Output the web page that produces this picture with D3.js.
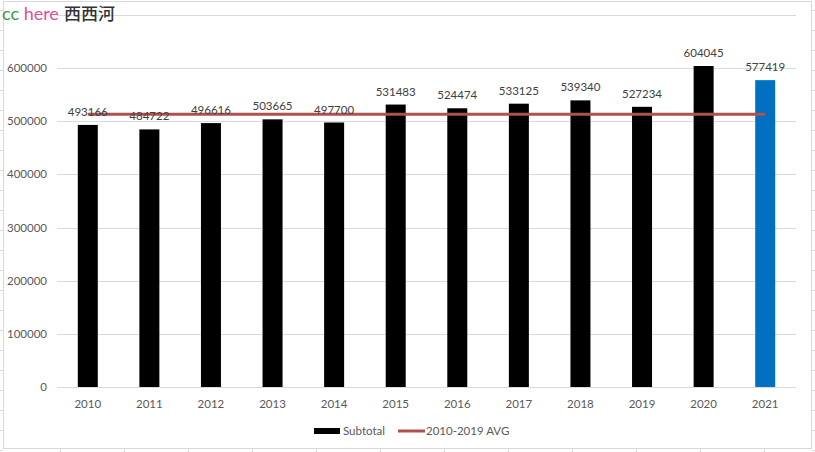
<!DOCTYPE html>
<html>
<head>
<meta charset="utf-8">
<script src="https://cdn.jsdelivr.net/npm/d3@7"></script>
<style>
  body { margin: 0; background: #fff; }
  svg text { font-family: Lato, "Open Sans", sans-serif; }
</style>
</head>
<body>
<svg id="chart" width="815" height="452"></svg>
<script>
const years = ["2010", "2011", "2012", "2013", "2014", "2015", "2016", "2017", "2018", "2019", "2020", "2021"];
const subtotal = [493166, 484722, 496616, 503665, 497700, 531483, 524474, 533125, 539340, 527234, 604045, 577419];
const yTicks = [0, 100000, 200000, 300000, 400000, 500000, 600000, 700000];
const avgYears = years.slice(0, 10);

const svg = d3.select("svg#chart");
const W = +svg.attr("width"), H = +svg.attr("height");

// spreadsheet cell lines around the chart object
const sheet = svg.append("g").attr("stroke", "#d9d9d9").attr("stroke-width", 1);
d3.range(10, H, 20).forEach(y => {
    sheet.append("line").attr("x1", 0).attr("x2", 3).attr("y1", y + 0.5).attr("y2", y + 0.5);
    sheet.append("line").attr("x1", 812).attr("x2", W).attr("y1", y + 0.5).attr("y2", y + 0.5);
});
d3.range(60, W, 64).forEach(x => {
    sheet.append("line").attr("x1", x + 0.5).attr("x2", x + 0.5).attr("y1", 449).attr("y2", H);
});
svg.append("rect")
    .attr("x", 3.5).attr("y", 1.5).attr("width", 808).attr("height", 447)
    .attr("fill", "#fff").attr("stroke", "#d9d9d9");

const x = d3.scaleBand().domain(years).range([57, 796]);
const y = d3.scaleLinear().domain([0, 700000]).range([387, 15]);

// gridlines
svg.append("g").selectAll("line").data(yTicks.slice(1)).join("line")
    .attr("x1", 57).attr("x2", 796)
    .attr("y1", d => Math.round(y(d)) + 0.5).attr("y2", d => Math.round(y(d)) + 0.5)
    .attr("stroke", "#d9d9d9");

// y axis labels
svg.append("g").selectAll("text").data(yTicks.slice(0, 7)).join("text")
    .attr("x", 47).attr("y", d => y(d)).attr("dy", "0.35em")
    .attr("text-anchor", "end").attr("font-size", 11.5).attr("fill", "#595959")
    .text(d => d);

// baseline
svg.append("line").attr("x1", 57).attr("x2", 796)
    .attr("y1", y(0) + 0.5).attr("y2", y(0) + 0.5).attr("stroke", "#d9d9d9");

// x labels
svg.append("g").selectAll("text").data(years).join("text")
    .attr("x", d => x(d) + x.bandwidth() / 2).attr("y", 404)
    .attr("dy", "0.35em").attr("text-anchor", "middle")
    .attr("font-size", 11.5).attr("fill", "#595959")
    .text(d => d);

const barW = 20;
svg.append("g").selectAll("rect").data(subtotal).join("rect")
    .attr("x", (d, i) => x(years[i]) + x.bandwidth() / 2 - barW / 2)
    .attr("width", barW)
    .attr("y", d => y(d))
    .attr("height", d => y(0) - y(d))
    .attr("fill", (d, i) => years[i] === "2021" ? "#0070c0" : "#000");

// 2010-2019 average
const avg = d3.mean(subtotal.slice(0, avgYears.length));
svg.append("line")
    .attr("x1", x(years[0]) + x.bandwidth() / 2)
    .attr("x2", x(years[years.length - 1]) + x.bandwidth() / 2)
    .attr("y1", y(avg)).attr("y2", y(avg))
    .attr("stroke", "#b0504f").attr("stroke-width", 3);

// value labels
svg.append("g").selectAll("text").data(subtotal).join("text")
    .attr("x", (d, i) => x(years[i]) + x.bandwidth() / 2)
    .attr("y", d => y(d) - 9)
    .attr("text-anchor", "middle").attr("font-size", 11.5).attr("fill", "#404040")
    .text(d => d);

// legend
const lg = svg.append("g").attr("font-size", 11.5).attr("fill", "#595959");
lg.append("rect").attr("x", 314).attr("y", 428).attr("width", 26).attr("height", 6).attr("fill", "#000");
lg.append("text").attr("x", 343).attr("y", 431).attr("dy", "0.35em").text("Subtotal");
lg.append("line").attr("x1", 398).attr("x2", 425).attr("y1", 431).attr("y2", 431)
    .attr("stroke", "#b0504f").attr("stroke-width", 3);
lg.append("text").attr("x", 426).attr("y", 431).attr("dy", "0.35em").text("2010-2019 AVG");

// title overlay
const title = svg.append("text").attr("x", 2).attr("y", 20).attr("font-size", 18);
title.append("tspan").attr("fill", "#3a9a4a").text("cc ");
title.append("tspan").attr("fill", "#d94f9a").text("here");
title.append("tspan").attr("fill", "#333").attr("dx", 5)
    .attr("font-family", "'Noto Sans CJK SC'").attr("font-weight", 500).attr("font-size", 17).text("西西河");
</script>
</body>
</html>
